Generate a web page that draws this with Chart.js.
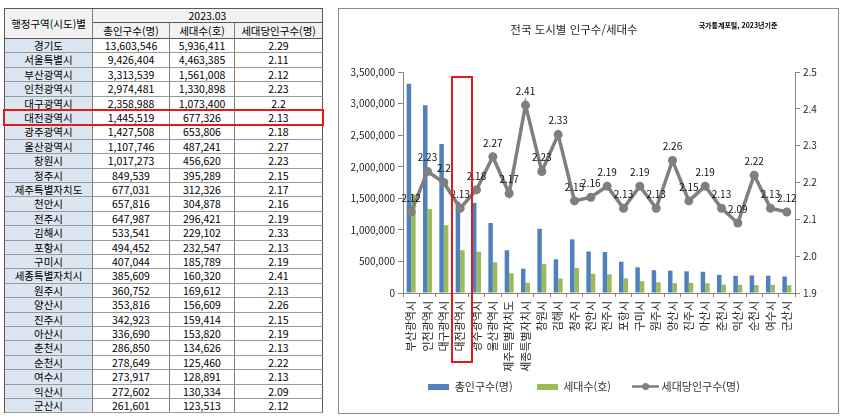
<!DOCTYPE html>
<html lang="ko">
<head>
<meta charset="utf-8">
<title>전국 도시별 인구수/세대수</title>
<script src="https://cdn.jsdelivr.net/npm/chart.js@4.4.0/dist/chart.umd.min.js"></script>
<style>
  body{margin:0;background:#fff;font-family:'Noto Sans CJK KR',sans-serif;}
  #wrap{position:relative;width:842px;height:419px;overflow:hidden;}
  #tbl{position:absolute;left:4px;top:8px;width:318px;height:404px;border-left:1px solid #595959;border-top:1px solid #595959;}
  .cell{position:absolute;box-sizing:border-box;border-right:1px solid #7f7f7f;border-bottom:1px solid #9a9a9a;
        text-align:center;font-size:10.5px;color:#000;white-space:nowrap;overflow:hidden;}
  .head{background:#f2f2f2;border-bottom-color:#595959;}
  .name{background:#dce6f1;}
  .last{border-right-color:#595959;}
  #box{position:absolute;left:338px;top:8px;width:501px;height:406px;box-sizing:border-box;border:1px solid #8c8c8c;}
  #chart{display:block;}
  #title{position:absolute;left:474px;top:21px;width:200px;text-align:center;font-size:11.5px;line-height:16px;color:#262626;}
  #source{position:absolute;left:690px;top:19px;width:96px;text-align:center;font-size:7px;line-height:12px;color:#000;font-weight:bold;}
  .mark{position:absolute;box-sizing:border-box;border:2px solid #e3191c;}
</style>
</head>
<body>
<div id="wrap">
  <div id="tbl"></div>
  <div id="box"><canvas id="chart" width="499" height="404"></canvas></div>
  <div id="title">전국 도시별 인구수/세대수</div>
  <div id="source">국가통계포털, 2023년기준</div>
  <div class="mark" style="left:3px;top:109px;width:321px;height:17px;"></div>
  <div class="mark" style="left:451px;top:76px;width:22px;height:287px;"></div>
</div>
<script>
// ---- Table data (2023.03) ----
const regions = ['경기도','서울특별시','부산광역시','인천광역시','대구광역시','대전광역시','광주광역시','울산광역시','창원시','청주시','제주특별자치도','천안시','전주시','김해시','포항시','구미시','세종특별자치시','원주시','양산시','진주시','아산시','춘천시','순천시','여수시','익산시','군산시'];
const population = [13603546,9426404,3313539,2974481,2358988,1445519,1427508,1107746,1017273,849539,677031,657816,647987,533541,494452,407044,385609,360752,353816,342923,336690,286850,278649,273917,272602,261601];
const households = [5936411,4463385,1561008,1330898,1073400,677326,653806,487241,456620,395289,312326,304878,296421,229102,232547,185789,160320,169612,156609,159414,153820,134626,125460,128891,130334,123513];
const perHousehold = ['2.29','2.11','2.12','2.23','2.2','2.13','2.18','2.27','2.23','2.15','2.17','2.16','2.19','2.33','2.13','2.19','2.41','2.13','2.26','2.15','2.19','2.13','2.22','2.13','2.09','2.12'];

// ---- Chart data ----
const chartCities = ['부산광역시','인천광역시','대구광역시','대전광역시','광주광역시','울산광역시','제주특별자치도','세종특별자치시','창원시','김해시','청주시','천안시','전주시','포항시','구미시','원주시','양산시','진주시','아산시','춘천시','익산시','순천시','여수시','군산시'];
const chartPopulation = [3313539,2974481,2358988,1445519,1427508,1107746,677031,385609,1017273,533541,849539,657816,647987,494452,407044,360752,353816,342923,336690,286850,272602,278649,273917,261601];
const chartHouseholds = [1561008,1330898,1073400,677326,653806,487241,312326,160320,456620,229102,395289,304878,296421,232547,185789,169612,156609,159414,153820,134626,130334,125460,128891,123513];
const chartPerHousehold = [2.12,2.23,2.2,2.13,2.18,2.27,2.17,2.41,2.23,2.33,2.15,2.16,2.19,2.13,2.19,2.13,2.26,2.15,2.19,2.13,2.09,2.22,2.13,2.12];
const seriesNames = ['총인구수(명)','세대수(호)','세대당인구수(명)'];

// ---- Table ----
function cell(x0,x1,y0,y1,text,cls){
  const d = document.createElement('div');
  d.className = 'cell '+(cls||'');
  d.style.left = x0+'px'; d.style.top = y0+'px';
  d.style.width = (x1-x0)+'px'; d.style.height = (y1-y0)+'px';
  d.style.lineHeight = (y1-y0-1)+'px';
  d.textContent = text;
  document.getElementById('tbl').appendChild(d);
}
function buildTable(){
  const cx = [0,88,165,230,318];
  cell(cx[0],cx[1],0,30,'행정구역(시도)별','head');
  cell(cx[1],cx[4],0,14,'2023.03','head last');
  cell(cx[1],cx[2],14,30,'총인구수(명)','head');
  cell(cx[2],cx[3],14,30,'세대수(호)','head');
  cell(cx[3],cx[4],14,30,'세대당인구수(명)','head last');
  regions.forEach((r,i)=>{
    const y0 = Math.round(30+i*14.4), y1 = Math.round(30+(i+1)*14.4);
    cell(cx[0],cx[1],y0,y1,r,'name');
    cell(cx[1],cx[2],y0,y1,population[i].toLocaleString('en-US'));
    cell(cx[2],cx[3],y0,y1,households[i].toLocaleString('en-US'));
    cell(cx[3],cx[4],y0,y1,perHousehold[i],'last');
  });
}

// ---- Legend icons ----
function barIcon(color){
  const c = document.createElement('canvas');
  c.width = 21; c.height = 6;
  const g = c.getContext('2d');
  g.fillStyle = color; g.fillRect(0,0,21,6);
  return c;
}
function lineIcon(color){
  const c = document.createElement('canvas');
  c.width = 27; c.height = 9;
  const g = c.getContext('2d');
  g.strokeStyle = color; g.lineWidth = 2.5;
  g.beginPath(); g.moveTo(0,4.5); g.lineTo(27,4.5); g.stroke();
  g.fillStyle = color;
  g.beginPath(); g.arc(13.5,4.5,3.5,0,Math.PI*2); g.fill();
  return c;
}

// ---- Line value labels ----
const pointLabels = {
  id:'pointLabels',
  afterDatasetsDraw(chart){
    const meta = chart.getDatasetMeta(2);
    const ctx = chart.ctx;
    ctx.save();
    ctx.font = "10px 'Noto Sans CJK KR'";
    ctx.fillStyle = '#111';
    ctx.textAlign = 'center';
    ctx.textBaseline = 'middle';
    meta.data.forEach((pt,i)=>{
      ctx.fillText(String(chartPerHousehold[i]), pt.x, pt.y-14);
    });
    ctx.restore();
  }
};

// the city labels run past the (fixed) axis box into the legend's empty band
function unclipLabels(scale){
  scale._computeLabelArea = ()=>undefined;
}

// ---- Chart ----
function drawChart(){
  Chart.defaults.font.family = "'Noto Sans CJK KR', sans-serif";
  Chart.defaults.color = '#262626';
  const colors = ['#4f81bd','#9bbb59','#7f7f7f'];
  const icons = [barIcon(colors[0]), barIcon(colors[1]), lineIcon(colors[2])];
  new Chart(document.getElementById('chart'), {
    data:{
      labels: chartCities,
      datasets:[
        { type:'bar', label:seriesNames[0], data:chartPopulation, backgroundColor:colors[0], yAxisID:'y', order:2,
          categoryPercentage:0.55, barPercentage:1.0 },
        { type:'bar', label:seriesNames[1], data:chartHouseholds, backgroundColor:colors[1], yAxisID:'y', order:2,
          categoryPercentage:0.55, barPercentage:1.0 },
        { type:'line', label:seriesNames[2], data:chartPerHousehold, borderColor:colors[2], backgroundColor:colors[2],
          borderWidth:3.5, pointRadius:4.5, pointBackgroundColor:colors[2], pointBorderWidth:0, yAxisID:'y1', order:0, tension:0 }
      ]
    },
    options:{
      responsive:false,
      animation:false,
      layout:{ padding:{ left:4, right:13, top:63, bottom:11 } },
      scales:{
        x:{
          grid:{ offset:true, drawOnChartArea:false, tickLength:4, color:'#868686' },
          border:{ color:'#868686' },
          ticks:{ autoSkip:false, minRotation:90, maxRotation:90, padding:4, font:{ size:11 } },
          afterFit:s=>{ s.height = 64; },
          afterUpdate:unclipLabels
        },
        y:{
          position:'left', min:0, max:3500000,
          grid:{ drawOnChartArea:false, tickLength:5, color:'#868686' },
          border:{ color:'#868686' },
          ticks:{ stepSize:500000, padding:3, font:{ size:10 }, callback:v=>v.toLocaleString('en-US') },
          afterFit:s=>{ s.width = 60; }
        },
        y1:{
          position:'right', min:1.9, max:2.5,
          grid:{ drawOnChartArea:false, tickLength:5, color:'#868686' },
          border:{ color:'#868686' },
          ticks:{ stepSize:0.1, padding:3, font:{ size:10 } },
          afterFit:s=>{ s.width = 30; }
        }
      },
      plugins:{
        title:{ display:false },
        tooltip:{ enabled:false },
        legend:{
          position:'bottom',
          labels:{
            usePointStyle:true, pointStyleWidth:21, padding:24, color:'#333', font:{ size:11 },
            generateLabels:chart=>chart.data.datasets.map((ds,i)=>({
              text:ds.label, pointStyle:icons[i], fillStyle:colors[i], strokeStyle:colors[i],
              lineWidth:0, hidden:!chart.isDatasetVisible(i), datasetIndex:i, fontColor:'#333'
            }))
          }
        }
      }
    },
    plugins:[pointLabels]
  });
}

// ---- Init ----
buildTable();
drawChart();
</script>
</body>
</html>
